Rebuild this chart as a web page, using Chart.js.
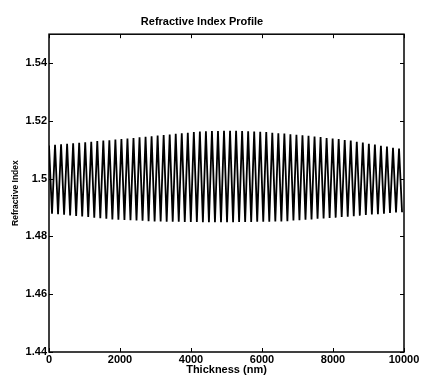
<!DOCTYPE html>
<html>
<head>
<meta charset="utf-8">
<script src="https://cdn.jsdelivr.net/npm/chart.js@4/dist/chart.umd.min.js"></script>
<style>
  html, body { margin: 0; padding: 0; background: #fff; }
  canvas { display: block; }
</style>
</head>
<body>
<canvas id="myChart" width="422" height="379"></canvas>
<script>
// peaks of the index profile (thickness in nm, refractive index)
const peakNm = [0,170,340,510,680,850,1020,1190,1360,1530,1700,1870,2040,2210,2380,2550,2720,2890,3060,3230,3400,3570,3740,3910,4080,4250,4420,4590,4760,4930,5100,5270,5440,5610,5780,5950,6120,6290,6460,6630,6800,6970,7140,7310,7480,7650,7820,7990,8160,8330,8500,8670,8840,9010,9180,9350,9520,9690,9860];
const peakIndex = [1.5115,1.5117,1.5119,1.5121,1.5122,1.5124,1.5126,1.5128,1.5130,1.5132,1.5133,1.5135,1.5137,1.5139,1.5141,1.5143,1.5145,1.5147,1.5149,1.5151,1.5153,1.5155,1.5157,1.5159,1.5161,1.5163,1.5164,1.5165,1.5165,1.5166,1.5166,1.5166,1.5165,1.5164,1.5163,1.5162,1.5161,1.5159,1.5157,1.5156,1.5154,1.5152,1.5150,1.5148,1.5146,1.5144,1.5141,1.5139,1.5137,1.5134,1.5132,1.5128,1.5125,1.5121,1.5118,1.5114,1.5111,1.5107,1.5104];
// troughs of the index profile
const troughNm = [85,255,425,595,765,935,1105,1275,1445,1615,1785,1955,2125,2295,2465,2635,2805,2975,3145,3315,3485,3655,3825,3995,4165,4335,4505,4675,4845,5015,5185,5355,5525,5695,5865,6035,6205,6375,6545,6715,6885,7055,7225,7395,7565,7735,7905,8075,8245,8415,8585,8755,8925,9095,9265,9435,9605,9775,9945];
const troughIndex = [1.4879,1.4877,1.4875,1.4873,1.4871,1.4869,1.4867,1.4865,1.4863,1.4861,1.4859,1.4858,1.4857,1.4856,1.4855,1.4854,1.4853,1.4852,1.4852,1.4851,1.4851,1.4851,1.4850,1.4850,1.4850,1.4849,1.4849,1.4849,1.4849,1.4849,1.4849,1.4850,1.4850,1.4850,1.4851,1.4851,1.4851,1.4852,1.4852,1.4853,1.4855,1.4856,1.4858,1.4859,1.4861,1.4862,1.4864,1.4865,1.4867,1.4868,1.4870,1.4872,1.4874,1.4876,1.4877,1.4879,1.4881,1.4883,1.4884];

const xTicks = [0, 2000, 4000, 6000, 8000, 10000];
const xTickLabels = ['0', '2000', '4000', '6000', '8000', '10000'];
const yTicks = [1.44, 1.46, 1.48, 1.5, 1.52, 1.54];
const yTickLabels = ['1.44', '1.46', '1.48', '1.5', '1.52', '1.54'];

// peak, trough, peak, trough ...
let profile = [];
peakNm.forEach((nm, i) => {
    profile.push({x: nm, y: peakIndex[i]});
    profile.push({x: troughNm[i], y: troughIndex[i]});
});

const family = "'Liberation Sans', Arial, sans-serif";
const font = {family: family, size: 11, weight: 'bold'};

// box round the plot and inward ticks on all four sides
const boxTicks = {
    id: 'boxTicks',
    afterDraw(chart) {
        const {ctx, chartArea: a, scales} = chart;
        ctx.save();
        ctx.strokeStyle = '#000';
        ctx.lineWidth = 1.5;
        ctx.strokeRect(a.left, a.top, a.right - a.left, a.bottom - a.top);
        ctx.lineWidth = 1;
        ctx.beginPath();
        xTicks.forEach(v => {
            const px = Math.round(scales.x.getPixelForValue(v)) + 0.5;
            ctx.moveTo(px, a.bottom); ctx.lineTo(px, a.bottom - 4);
            ctx.moveTo(px, a.top); ctx.lineTo(px, a.top + 4);
        });
        yTicks.forEach(v => {
            const py = Math.round(scales.y.getPixelForValue(v)) + 0.5;
            ctx.moveTo(a.left, py); ctx.lineTo(a.left + 4, py);
            ctx.moveTo(a.right, py); ctx.lineTo(a.right - 4, py);
        });
        ctx.stroke();
        ctx.restore();
    }
};

new Chart('myChart', {
    type: 'line',
    data: {
        datasets: [{
            data: profile,
            borderColor: '#000',
            borderWidth: 1.8,
            pointRadius: 0,
            tension: 0,
            fill: false
        }]
    },
    options: {
        responsive: false,
        animation: false,
        layout: {padding: {right: 18}},
        plugins: {
            legend: {display: false},
            tooltip: {enabled: false},
            title: {
                display: true,
                text: 'Refractive Index Profile',
                color: '#000',
                font: font,
                padding: {top: 15, bottom: 6}
            }
        },
        scales: {
            x: {
                type: 'linear',
                min: 0,
                max: 10000,
                afterFit: s => { s.height = 27; },
                afterBuildTicks: s => { s.ticks = xTicks.map(v => ({value: v})); },
                grid: {display: false, drawTicks: false},
                border: {display: false},
                ticks: {
                    color: '#000',
                    font: font,
                    padding: 1,
                    maxRotation: 0,
                    autoSkip: false,
                    callback: (v, i) => xTickLabels[i]
                },
                title: {
                    display: true,
                    text: 'Thickness (nm)',
                    color: '#000',
                    font: font,
                    padding: {top: 0, bottom: 2}
                }
            },
            y: {
                type: 'linear',
                min: 1.44,
                max: 1.55,
                afterFit: s => { s.width = 49; },
                afterBuildTicks: s => { s.ticks = yTicks.map(v => ({value: v})); },
                grid: {display: false, drawTicks: false},
                border: {display: false},
                ticks: {
                    color: '#000',
                    font: font,
                    padding: 2,
                    autoSkip: false,
                    callback: (v, i) => yTickLabels[i]
                },
                title: {
                    display: true,
                    text: 'Refractive Index',
                    color: '#000',
                    font: {family: family, size: 8.5, weight: 'bold'},
                    padding: {top: 11, bottom: 0}
                }
            }
        }
    },
    plugins: [boxTicks]
});
</script>
</body>
</html>
